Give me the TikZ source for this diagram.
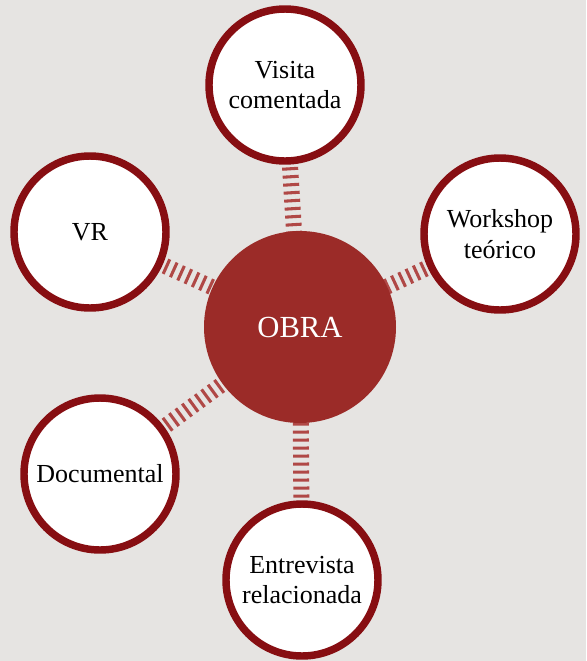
\documentclass[tikz,border=0pt]{standalone}
\usepackage{fontspec}
\setmainfont{Liberation Serif}
\usetikzlibrary{positioning,backgrounds}

\definecolor{fondo}{RGB}{230,228,226}
\definecolor{rojoobra}{RGB}{155,43,40}
\definecolor{rojoborde}{RGB}{135,14,18}
\definecolor{rojoraya}{RGB}{176,72,70}

\begin{document}
\begin{tikzpicture}[
          x=0.75pt, y=-0.75pt,
          % Circulo central
          nucleo/.style={
              circle,
              fill=rojoobra,
              minimum size=144pt,
              inner sep=0pt,
              text=white,
              font=\fontsize{23}{27}\selectfont
          },
          % Circulos exteriores
          satelite/.style={
              circle,
              draw=rojoborde,
              fill=white,
              line width=5.6pt,
              minimum size=114pt,
              inner sep=0pt,
              align=center,
              font=\fontsize{19.5}{23}\selectfont
          },
          % Conectores rayados
          raya/.style={
              draw=rojoraya,
              line width=12pt,
              dash pattern=on 2.3pt off 3.7pt
          }
      ]

          % 1. Nodo central
          \node [nucleo] (obra) at (300,327) {OBRA};

          % 2. Nodos exteriores
          \node [satelite] (visita) at (285,85) {Visita\\comentada};
          \node [satelite] (workshop) at (500,234) {Workshop\\teórico};
          \node [satelite] (vr) at (90,232) {VR};
          \node [satelite] (documental) at (100,474) {Documental};
          \node [satelite] (entrevista) at (302,580) {Entrevista\\relacionada};

          % 3. Fondo y conectores detras de los nodos
          \begin{scope}[on background layer]
              \fill [fondo] (0,0) rectangle (586,661);
              \foreach \destino in {visita, workshop, vr, documental, entrevista}
                  \draw [raya, shorten <=2pt, shorten >=-4pt] (\destino) -- (obra);
          \end{scope}
          \useasboundingbox (0,0) rectangle (586,661);

      \end{tikzpicture}
\end{document}
